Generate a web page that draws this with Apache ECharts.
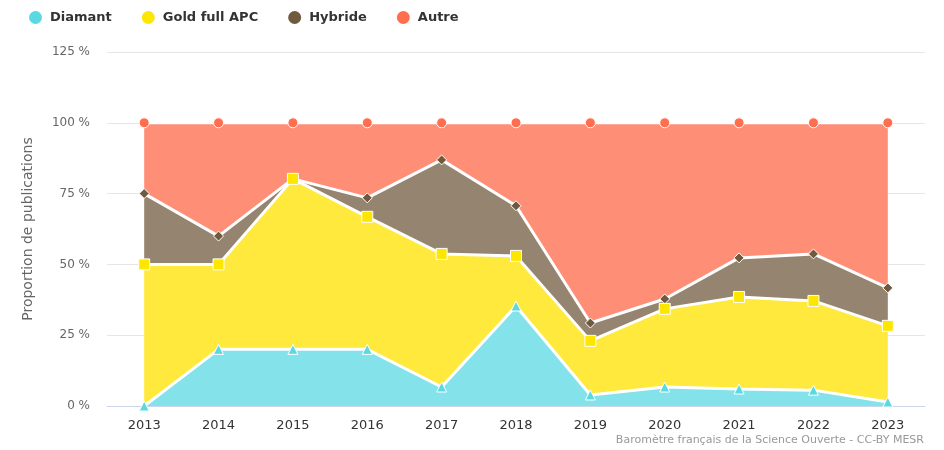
<!DOCTYPE html>
<html>
<head>
<meta charset="utf-8">
<script src="https://cdn.jsdelivr.net/npm/echarts@6/dist/echarts.min.js"></script>
<style>
  html, body { margin: 0; padding: 0; background: #fff; }
  #chart { width: 944px; height: 450px; }
</style>
</head>
<body>
<div id="chart"></div>
<script>
const years = ['2013', '2014', '2015', '2016', '2017', '2018', '2019', '2020', '2021', '2022', '2023']
const diamant = [0, 20, 20, 20, 6.7, 35.3, 3.9, 6.7, 6, 5.6, 1.4]
const goldFullApc = [50, 30, 60.2, 46.8, 47, 17.7, 19.1, 27.6, 32.5, 31.5, 26.9]
const hybride = [25, 10, 0, 6.7, 33.2, 17.7, 6.3, 3.5, 13.8, 16.6, 13.4]
const autre = [25, 40, 19.8, 26.5, 13.1, 29.3, 70.7, 62.2, 47.7, 46.3, 58.3]
const yTicks = [0, 25, 50, 75, 100, 125]

const font = '"DejaVu Sans", Verdana, sans-serif'

// z: lower stack drawn last so its markers sit on top (like the original)
function serie(name, data, color, areaColor, symbol, size, z) {
  return {
    name, type: 'line', stack: 'total', data,
    symbol, symbolSize: size,
    itemStyle: { color, borderColor: '#fff', borderWidth: 1 },
    lineStyle: { color: '#fff', width: 3 },
    areaStyle: { color: areaColor, opacity: 1 },
    emphasis: { disabled: true },
    z,
  }
}

const chart = echarts.init(document.getElementById('chart'))
chart.setOption({
  animation: false,
  color: ['#5ad9e2', '#fde600', '#6f5a3e', '#ff6e4e'],
  textStyle: { fontFamily: font },
  legend: {
    top: 4, left: 22, itemGap: 28, itemWidth: 15, itemHeight: 15, icon: 'circle',
    textStyle: { color: '#333', fontSize: 13, fontWeight: 'bold', fontFamily: font, padding: [0, 0, 0, 2] },
    data: ['Diamant', 'Gold full APC', 'Hybride', 'Autre'],
  },
  grid: { left: 107, right: 19, top: 52, bottom: 44 },
  xAxis: {
    type: 'category', data: years, boundaryGap: true,
    axisLine: { lineStyle: { color: '#ccd6eb' } },
    axisTick: { show: false },
    axisLabel: { color: '#333', fontSize: 13, margin: 13 },
  },
  yAxis: {
    type: 'value', min: yTicks[0], max: yTicks[yTicks.length - 1], interval: 25,
    name: 'Proportion de publications', nameLocation: 'middle', nameGap: 72,
    nameTextStyle: { color: '#666', fontSize: 14 },
    axisLabel: { color: '#666', fontSize: 12, margin: 17, formatter: '{value} %' },
    splitLine: { lineStyle: { color: '#e6e6e6' } },
  },
  graphic: [{
    type: 'text', right: 20, top: 435,
    style: { text: 'Baromètre français de la Science Ouverte - CC-BY MESR', fill: '#999', fontSize: 11, fontFamily: font },
  }],
  series: [
    serie('Diamant', diamant, '#5ad9e2', '#84e3ea', 'triangle', 10, 5),
    serie('Gold full APC', goldFullApc, '#fde600', '#fee93c', 'rect', 11, 4),
    serie('Hybride', hybride, '#6f5a3e', '#958570', 'diamond', 10, 3),
    serie('Autre', autre, '#ff6e4e', '#ff8e77', 'circle', 10, 2),
  ],
})
</script>
</body>
</html>
